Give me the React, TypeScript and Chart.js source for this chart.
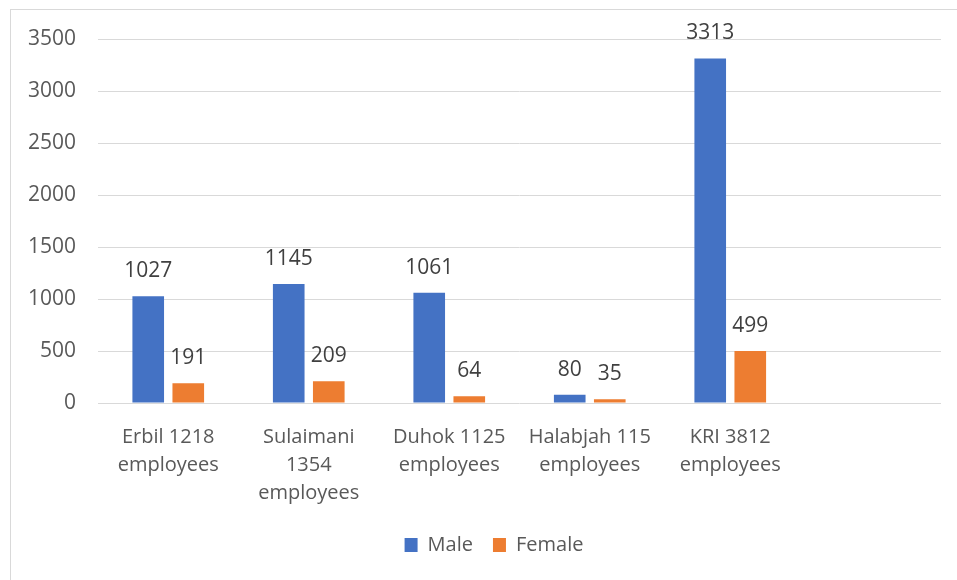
import React, { useEffect, useRef } from "react";
import { Chart, registerables } from "chart.js";

Chart.register(...registerables);

const categories: (string | string[])[] = [
  ["Erbil 1218", "employees"],
  ["Sulaimani", "1354", "employees"],
  ["Duhok 1125", "employees"],
  ["Halabjah 115", "employees"],
  ["KRI 3812", "employees"],
  "",
];
const maleValues: (number | null)[] = [1027, 1145, 1061, 80, 3313, null];
const femaleValues: (number | null)[] = [191, 209, 64, 35, 499, null];
const seriesNames = ["Male", "Female"];
const seriesColors = ["#4472C4", "#ED7D31"];
const yMin = 0;
const yMax = 3500;
const yStep = 500;

const FONT = "'Open Sans', sans-serif";

const valueLabels = {
  id: "valueLabels",
  afterDatasetsDraw(chart: any) {
    const ctx = chart.ctx;
    ctx.save();
    ctx.font = `21px 'Open Sans', sans-serif`;
    ctx.fillStyle = "#404040";
    ctx.textAlign = "center";
    ctx.textBaseline = "middle";
    chart.data.datasets.forEach((ds: any, i: number) => {
      const meta = chart.getDatasetMeta(i);
      meta.data.forEach((el: any, j: number) => {
        const v = ds.data[j];
        if (v == null) return;
        ctx.fillText(String(v), el.x, el.y - 25);
      });
    });
    ctx.restore();
  },
};

const shiftLegend = {
  id: "shiftLegend",
  afterLayout(chart: any) {
    const lg = chart.legend;
    if (lg) {
      lg.left += 36;
    }
  },
};

export default function App() {
  const ref = useRef<HTMLCanvasElement | null>(null);
  useEffect(() => {
    if (!ref.current) return;
    const chart = new Chart(ref.current, {
      type: "bar",
      data: {
        labels: categories,
        datasets: [
          {
            label: seriesNames[0],
            data: maleValues,
            backgroundColor: seriesColors[0],
            categoryPercentage: 0.57,
            barPercentage: 0.79,
          },
          {
            label: seriesNames[1],
            data: femaleValues,
            backgroundColor: seriesColors[1],
            categoryPercentage: 0.57,
            barPercentage: 0.79,
          },
        ],
      },
      options: {
        responsive: false,
        animation: false,
        layout: { padding: { top: 29, right: 16, left: 0, bottom: 15 } },
        plugins: {
          tooltip: { enabled: false },
          legend: {
            position: "bottom",
            labels: {
              font: { family: FONT, size: 20 },
              color: "#595959",
              boxWidth: 13,
              boxHeight: 14,
              padding: 20,
            },
          },
        },
        scales: {
          x: {
            grid: { display: false },
            border: { display: false },
            ticks: {
              font: { family: FONT, size: 20, lineHeight: 1.4 },
              color: "#595959",
              padding: 12,
              maxRotation: 0,
              autoSkip: false,
            },
            afterFit: (s: any) => {
              s.height = 112;
            },
          },
          y: {
            min: yMin,
            max: yMax,
            grid: {
              color: "#d9d9d9",
              lineWidth: 1,
              drawTicks: true,
              tickLength: 22,
              tickColor: "rgba(0,0,0,0)",
            },
            border: { display: false },
            ticks: {
              stepSize: yStep,
              font: { family: FONT, size: 21 },
              color: "#595959",
              padding: 0,
              callback: (v: any) => String(v),
            },
            afterFit: (s: any) => {
              s.width = 87;
            },
          },
        },
      },
      plugins: [valueLabels, shiftLegend],
    });
    return () => chart.destroy();
  }, []);
  return (
    <div
      style={{
        position: "absolute",
        left: 10,
        top: 9,
        width: 947,
        height: 571,
        boxSizing: "border-box",
        borderTop: "1px solid #d9d9d9",
        borderLeft: "1px solid #d9d9d9",
        background: "#fff",
      }}
    >
      <canvas ref={ref} width={946} height={570} style={{ display: "block" }} />
    </div>
  );
}
